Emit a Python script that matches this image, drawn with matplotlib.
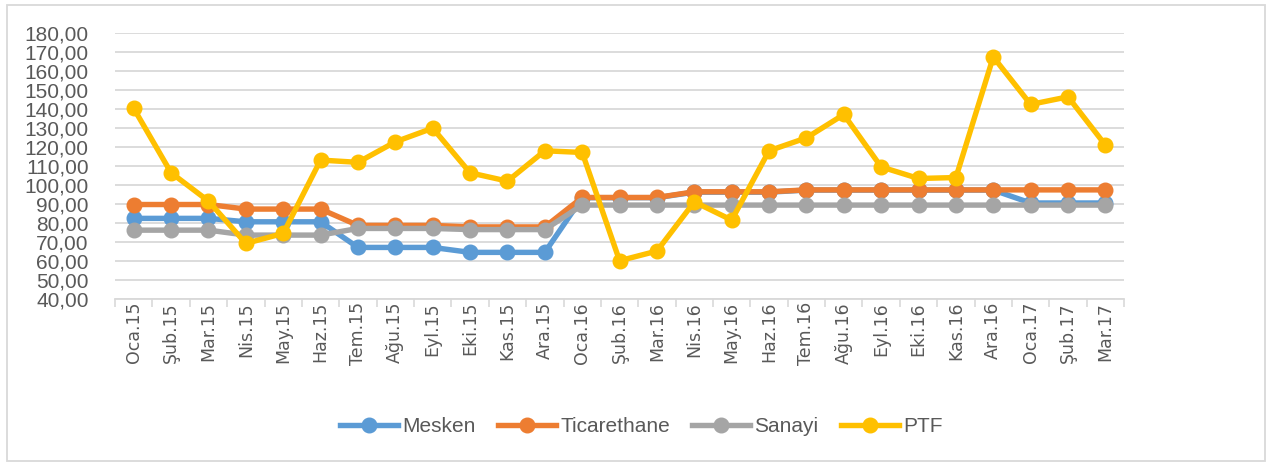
import matplotlib
matplotlib.use("Agg")
import matplotlib.pyplot as plt
from matplotlib.ticker import FuncFormatter, MultipleLocator
from matplotlib.patches import Rectangle

# Aylar (Ocak 2015 - Mart 2017)
aylar = ['Oca.15', 'Şub.15', 'Mar.15', 'Nis.15', 'May.15', 'Haz.15', 'Tem.15',
         'Ağu.15', 'Eyl.15', 'Eki.15', 'Kas.15', 'Ara.15', 'Oca.16', 'Şub.16',
         'Mar.16', 'Nis.16', 'May.16', 'Haz.16', 'Tem.16', 'Ağu.16', 'Eyl.16',
         'Eki.16', 'Kas.16', 'Ara.16', 'Oca.17', 'Şub.17', 'Mar.17']

mesken = [82.5, 82.5, 82.5, 80.7, 80.7, 80.7, 67.2, 67.2, 67.2, 64.6, 64.6, 64.6,
          93.4, 93.4, 93.4, 96.3, 96.3, 96.3, 97.4, 97.4, 97.4, 97.4, 97.4, 97.4,
          90.6, 90.6, 90.6]
ticarethane = [89.8, 89.8, 89.8, 87.4, 87.4, 87.4, 78.8, 78.8, 78.8, 78.0, 78.0, 78.0,
               93.5, 93.5, 93.5, 96.5, 96.5, 96.5, 97.5, 97.5, 97.5, 97.5, 97.5, 97.5,
               97.5, 97.5, 97.5]
sanayi = [76.3, 76.3, 76.3, 73.7, 73.7, 73.7, 77.2, 77.2, 77.2, 76.6, 76.6, 76.6,
          89.5, 89.5, 89.5, 89.5, 89.5, 89.5, 89.5, 89.5, 89.5, 89.5, 89.5, 89.5,
          89.5, 89.5, 89.5]
ptf = [140.4, 106.5, 91.6, 69.3, 74.6, 113.2, 112.0, 122.8, 130.0, 106.5, 102.1, 118.1,
       117.2, 60.2, 65.3, 91.2, 81.6, 118.1, 124.9, 137.2, 109.6, 103.5, 104.0, 167.5,
       142.5, 146.5, 121.1]

seriler = [('Mesken', mesken, '#5B9BD5'),
           ('Ticarethane', ticarethane, '#ED7D31'),
           ('Sanayi', sanayi, '#A5A5A5'),
           ('PTF', ptf, '#FFC000')]

fig = plt.figure(figsize=(12.7, 4.63), dpi=100)
ax = fig.add_axes([0.0906, 0.354, 0.7945, 0.5743])

x = list(range(len(aylar)))
for ad, deger, renk in seriler:
    ax.plot(x, deger, color=renk, linewidth=3.9, marker='o', markersize=10.5,
            label=ad, solid_joinstyle='round', zorder=3)

ax.set_xlim(-0.5, len(aylar) - 0.5)
ax.set_ylim(40, 180)
ax.yaxis.set_major_locator(MultipleLocator(10))
ax.yaxis.set_major_formatter(FuncFormatter(lambda v, p: f"{v:.2f}".replace('.', ',')))

ax.set_xticks(x)
ax.set_xticklabels(aylar, rotation=90, fontsize=12.5, color='#595959',
                   family='DejaVu Sans')
ax.set_xticks([i - 0.5 for i in range(len(aylar) + 1)], minor=True)
ax.tick_params(axis='x', which='major', length=0, pad=2)
ax.tick_params(axis='x', which='minor', length=6, color='#d9d9d9', width=1.2)
ax.tick_params(axis='y', length=0, pad=19, labelsize=15, labelcolor='#595959')
for lbl in ax.get_yticklabels():
    lbl.set_family('Liberation Sans')

ax.grid(axis='y', color='#d9d9d9', linewidth=1.3, zorder=0)
for s in ['top', 'right', 'left']:
    ax.spines[s].set_visible(False)
ax.spines['bottom'].set_color('#d9d9d9')
ax.spines['bottom'].set_linewidth(1.3)

leg = fig.legend(loc='center', bbox_to_anchor=(0.505, 0.078), ncol=4, frameon=False,
                 handlelength=2.8, columnspacing=1.05, handletextpad=0.2,
                 prop={'family': 'Liberation Sans', 'size': 15})
for t in leg.get_texts():
    t.set_color('#595959')

# dış çerçeve
fig.patches.append(Rectangle((0.0055, 0.005), 0.9905, 0.985, transform=fig.transFigure,
                             fill=False, edgecolor='#d9d9d9', linewidth=1.3))

fig.savefig('out.png', dpi=100)
